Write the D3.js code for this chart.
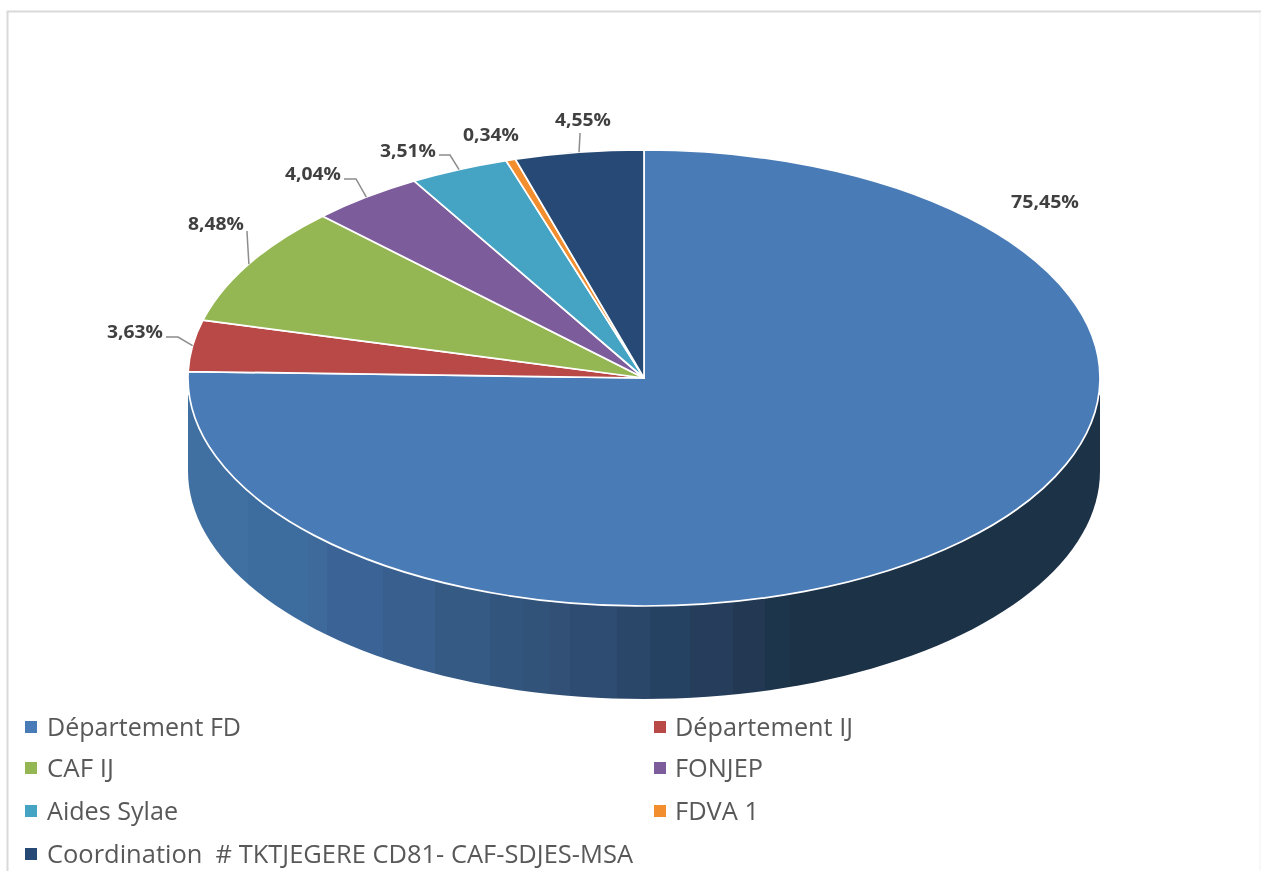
<!DOCTYPE html>
<html><head><meta charset="utf-8">
<script src="https://cdn.jsdelivr.net/npm/d3@7"></script>
<style>html,body{margin:0;padding:0;background:#fff;overflow:hidden}svg{display:block}</style>
</head><body><script>
const categories=["Département FD","Département IJ","CAF IJ","FONJEP","Aides Sylae","FDVA 1","Coordination  # TKTJEGERE CD81- CAF-SDJES-MSA"];
const values=[75.45,3.63,8.48,4.04,3.51,0.34,4.55];
const colors=["#4A7BB7","#B84A47","#95B753","#7C5C9A","#45A3C3","#F28E2F","#254A75"];
const labels=["75,45%","3,63%","8,48%","4,04%","3,51%","0,34%","4,55%"];

const W=1261,H=871,cx=644,cy=378,rx=456,ry=228,depth=93;
const svg=d3.select("body").append("svg").attr("width",W).attr("height",H);
const defs=svg.append("defs");
const blur=(id,s)=>defs.append("filter").attr("id",id).attr("filterUnits","userSpaceOnUse")
  .attr("x",0).attr("y",0).attr("width",W).attr("height",H)
  .append("feGaussianBlur").attr("stdDeviation",s);
blur("soft",0.6);blur("edge",0.5);

// frame
svg.append("path").attr("d",`M7.5,${H}V11.5H${W}`).attr("fill","none").attr("stroke","#d9d9d9").attr("stroke-width",2).attr("filter","url(#edge)");
svg.append("line").attr("x1",W-1).attr("x2",W-1).attr("y1",12).attr("y2",H).attr("stroke","#f2f2f2");

const pieGroup=svg.append("g").attr("filter","url(#edge)");

// wall: stepped shading like the source's faceted side
const shade=d3.scaleLinear()
  .domain([188,308,383,490,600,700,800,1100])
  .range(["#3F70A2","#3E6A9C","#3A6193","#34577F","#2E4A70","#263F5F","#1D3147","#1B2F45"])
  .clamp(true);
const bandEdges=[188,248,308,327,383,435,490,523,550,570,617,650,690,733,765,790,820,1100];
const grad=defs.append("linearGradient").attr("id","wall").attr("gradientUnits","userSpaceOnUse")
  .attr("x1",cx-rx).attr("x2",cx+rx).attr("y1",0).attr("y2",0);
const toOffset=d3.scaleLinear().domain([cx-rx,cx+rx]).range([0,1]);
d3.pairs(bandEdges).forEach(([a,b])=>{
  const c=shade((a+b)/2);
  grad.append("stop").attr("offset",toOffset(a)).attr("stop-color",c);
  grad.append("stop").attr("offset",toOffset(b)).attr("stop-color",c);
});
const lip=17;
const bottom=d3.range(0,181,2).map(a=>{const t=a*Math.PI/180;return [cx-rx*Math.cos(t),cy+depth+ry*Math.sin(t)];});
const wallPts=[[cx-rx,cy+lip],...bottom,[cx+rx,cy+lip],[cx,cy]];
pieGroup.append("path").attr("d",d3.line()(wallPts)+"Z").attr("fill","url(#wall)");

// top face
const pie=d3.pie().sort(null).value(d=>d)(values);
const arc=d3.arc().innerRadius(0).outerRadius(rx);
pieGroup.append("g").attr("transform",`translate(${cx},${cy}) scale(1,${ry/rx})`)
  .selectAll("path").data(pie).join("path")
  .attr("d",arc).attr("fill",(d,i)=>colors[i])
  .attr("stroke","#fff").attr("stroke-width",1.7).attr("stroke-linejoin","round")
  .attr("vector-effect","non-scaling-stroke");

// leaders: [slice index, label-side start, elbow]
const rim=d=>{const m=(d.startAngle+d.endAngle)/2;return [cx+rx*Math.sin(m),cy-ry*Math.cos(m)];};
const leaders=[[1,[166,337],[178,337]],[2,[247,231],[247,232]],[3,[344,179],[356,179]],[4,[439,155],[450,155]],[6,[580,133],[580,134]]];
svg.append("g").selectAll("path").data(leaders).join("path")
  .attr("d",l=>d3.line()([l[1],l[2],rim(pie[l[0]])]))
  .attr("fill","none").attr("stroke","#8c8c8c").attr("stroke-width",1.5).attr("filter","url(#edge)");

// data labels
const labelPos=[[1045,202],[135,332],[216,224],[313,174],[408,151],[491,135],[583,120]];
const labelWidths=[68,56,56,56,56,56,56];
svg.append("g").attr("filter","url(#soft)").selectAll("text").data(labels).join("text")
  .attr("x",(d,i)=>labelPos[i][0]).attr("y",(d,i)=>labelPos[i][1]).attr("dy","0.36em")
  .attr("text-anchor","middle").attr("font-family","'Open Sans'").attr("font-weight",700)
  .attr("font-size",17.5).attr("fill","#404040")
  .attr("textLength",(d,i)=>labelWidths[i]).attr("lengthAdjust","spacingAndGlyphs").text(d=>d);

// legend
const colX=[25,654],rowY=[727,768,811,854];
const legendWidths=[194,178,67,88,131,84,586];
const lg=svg.append("g").attr("filter","url(#soft)").selectAll("g").data(categories).join("g")
  .attr("transform",(d,i)=>`translate(${colX[i%2]},${rowY[Math.floor(i/2)]})`);
lg.append("rect").attr("y",-6).attr("width",12).attr("height",12).attr("fill",(d,i)=>colors[i]);
lg.append("text").attr("x",(d,i)=>i%2?21:22).attr("dy","0.36em").attr("font-family","'Open Sans'").attr("font-size",26)
  .attr("fill","#595959").style("white-space","pre")
  .attr("textLength",(d,i)=>legendWidths[i]).attr("lengthAdjust","spacingAndGlyphs").text(d=>d);
</script></body></html>
